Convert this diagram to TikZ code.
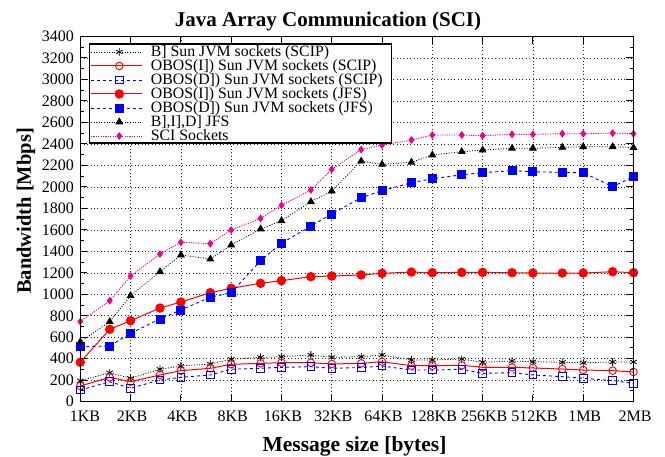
\documentclass[tikz,border=0pt]{standalone}
\usepackage{fontspec}
\setmainfont{Liberation Serif}
\usetikzlibrary{plotmarks}

\newcommand\fs[1]{\fontsize{#1}{#1}\selectfont}

\tikzset{
  gridline/.style={black!85, line width=0.6pt, dash pattern=on 1pt off 2.4pt},
  frameline/.style={black, line width=1.3pt},
  tickline/.style={black, line width=1pt},
  ticklab/.style={font=\fs{16}, inner sep=0pt},
  serA/.style={black, line width=0.8pt, dash pattern=on 1pt off 1.6pt,
    mark=asterisk, mark size=3.8pt, mark options={solid, line width=0.8pt}},
  serB/.style={red, line width=1pt,
    mark=o, mark size=3.8pt, mark options={solid, line width=0.9pt}},
  serC/.style={blue, line width=0.9pt, dash pattern=on 3pt off 3pt,
    mark=square, mark size=3.8pt, mark options={solid, line width=0.9pt}},
  serD/.style={red, line width=1pt,
    mark=*, mark size=4.2pt, mark options={solid}},
  serE/.style={blue, line width=0.9pt, dash pattern=on 3pt off 3pt,
    mark=square*, mark size=4pt, mark options={solid}},
  serF/.style={black, line width=0.8pt, dash pattern=on 1pt off 1.6pt,
    mark=triangle*, mark size=3.8pt, mark options={solid}},
  serG/.style={magenta, line width=0.9pt, dash pattern=on 1.2pt off 1.2pt,
    mark=diamond*, mark size=3.2pt, mark options={solid}},
  legtext/.style={font=\fs{15.8}, inner sep=0pt, anchor=base west},
}

\begin{document}
\begin{tikzpicture}[x=1pt, y=1pt]
\useasboundingbox (0,0) rectangle (665,456);
\fill[white] (0,0) rectangle (665,456);

% title and axis labels
\node[font=\bfseries\fs{21}, anchor=base, inner sep=0pt] (title) at (328,429.5) {Java Array Communication (SCI)};
\node[font=\bfseries\fs{21.5}, anchor=base, inner sep=0pt] (xlabel) at (354.5,5) {Message size [bytes]};
\node[font=\bfseries\fs{20.5}, rotate=90, anchor=base, inner sep=0pt] (ylabel) at (31,245) {Bandwidth [Mbps]};

% plot area: x in octaves above 1KB, y in Mbps
\begin{scope}[shift={(80.3,54.3)}, x=50.29pt, y=0.10741pt]
  % grid
  \foreach \v in {200,400,...,3200} \draw[gridline] (0,\v) -- (11,\v);
  \foreach \k in {1,...,10} \draw[gridline] (\k,0) -- (\k,3400);

  % ticks
  \foreach \v in {0,200,...,3400} {
    \draw[tickline] (0,\v) -- ++(7pt,0);
    \draw[tickline] (11,\v) -- ++(-7pt,0);
  }
  \foreach \v in {100,300,...,3300} {
    \draw[tickline] (0,\v) -- ++(3.5pt,0);
    \draw[tickline] (11,\v) -- ++(-3.5pt,0);
  }
  \foreach \k in {0,...,11} {
    \draw[tickline] (\k,0) -- ++(0,7pt);
    \draw[tickline] (\k,3400) -- ++(0,-7pt);
  }

  % tick labels
  \foreach \v in {0,200,...,3400}
    \node[ticklab, anchor=east, xshift=-6.3pt] (yt\v) at (0,\v) {\v};
  \foreach \k/\t in {1/2KB,2/4KB,3/8KB,4/16KB,5/32KB,6/64KB,7/128KB,8/256KB,9/512KB,10/1MB,11/2MB}
    \node[ticklab, anchor=base, xshift=1.5pt, yshift=-20pt] (xt\k) at (\k,0) {\t};
  \node[ticklab, anchor=base, xshift=4.7pt, yshift=-20pt] (xt0) at (0,0) {1KB};

  % data
  \draw[serA] plot coordinates {(0,195) (0.585,270) (1,218) (1.585,302) (2,332) (2.585,351) (3,395) (3.585,413) (4,419) (4.585,435) (5,413) (5.585,419) (6,435) (6.585,388) (7,388) (7.585,397) (8,367) (8.585,379) (9,372) (9.585,367) (10,363) (10.585,370) (11,370)};
  \draw[serB] plot coordinates {(0,146) (0.585,227) (1,186) (1.585,249) (2,289) (2.585,311) (3,348) (3.585,357) (4,363) (4.585,363) (5,351) (5.585,357) (6,372) (6.585,335) (7,335) (7.585,339) (8,320) (8.585,320) (9,314) (9.585,304) (10,295) (10.585,289) (11,277)};
  \draw[serC] plot coordinates {(0,109) (0.585,186) (1,125) (1.585,202) (2,227) (2.585,249) (3,302) (3.585,311) (4,320) (4.585,326) (5,311) (5.585,318) (6,332) (6.585,295) (7,295) (7.585,302) (8,264) (8.585,270) (9,249) (9.585,233) (10,218) (10.585,196) (11,171)};
  \draw[serD] plot coordinates {(0,367) (0.585,674) (1,754) (1.585,872) (2,928) (2.585,1015) (3,1056) (3.585,1102) (4,1127) (4.585,1164) (5,1170) (5.585,1180) (6,1195) (6.585,1207) (7,1201) (7.585,1204) (8,1204) (8.585,1201) (9,1198) (9.585,1198) (10,1198) (10.585,1210) (11,1201)};
  \draw[serE] plot coordinates {(0,512) (0.585,519) (1,637) (1.585,770) (2,854) (2.585,972) (3,1015) (3.585,1313) (4,1475) (4.585,1636) (5,1748) (5.585,1899) (6,1965) (6.585,2039) (7,2076) (7.585,2113) (8,2132) (8.585,2151) (9,2141) (9.585,2135) (10,2132) (10.585,2002) (11,2095)};
  \draw[serF] plot coordinates {(0,557) (0.585,745) (1,987) (1.585,1210) (2,1366) (2.585,1328) (3,1459) (3.585,1608) (4,1685) (4.585,1862) (5,1962) (5.585,2240) (6,2210) (6.585,2229) (7,2297) (7.585,2328) (8,2343) (8.585,2359) (9,2359) (9.585,2368) (10,2374) (10.585,2374) (11,2365)};
  \draw[serG] plot coordinates {(0,745) (0.585,940) (1,1170) (1.585,1375) (2,1484) (2.585,1471) (3,1598) (3.585,1707) (4,1828) (4.585,1971) (5,2163) (5.585,2347) (6,2390) (6.585,2436) (7,2483) (7.585,2483) (8,2477) (8.585,2489) (9,2489) (9.585,2495) (10,2495) (10.585,2501) (11,2495)};

  % frame
  \draw[frameline] (0,0) rectangle (11,3400);
\end{scope}

% legend
\draw[fill=white, line width=1.3pt] (89.3,313) rectangle (391.7,412);
\foreach \s/\y/\t [count=\i] in {
  serA/404/{B] Sun JVM sockets (SCIP)},
  serB/390/{OBOS(I]) Sun JVM sockets (SCIP)},
  serC/376/{OBOS(D]) Sun JVM sockets (SCIP)},
  serD/362/{OBOS(I]) Sun JVM sockets (JFS)},
  serE/348/{OBOS(D]) Sun JVM sockets (JFS)},
  serF/334/{B],I],D] JFS},
  serG/320/{SCI Sockets}} {
  \draw[\s, mark=none] (91,\y) -- (141.7,\y);
  \draw[\s] plot coordinates {(119.3,\y)};
  \node[legtext] (leg\i) at (150.7,\y-5) {\t};
}
\end{tikzpicture}
\end{document}
